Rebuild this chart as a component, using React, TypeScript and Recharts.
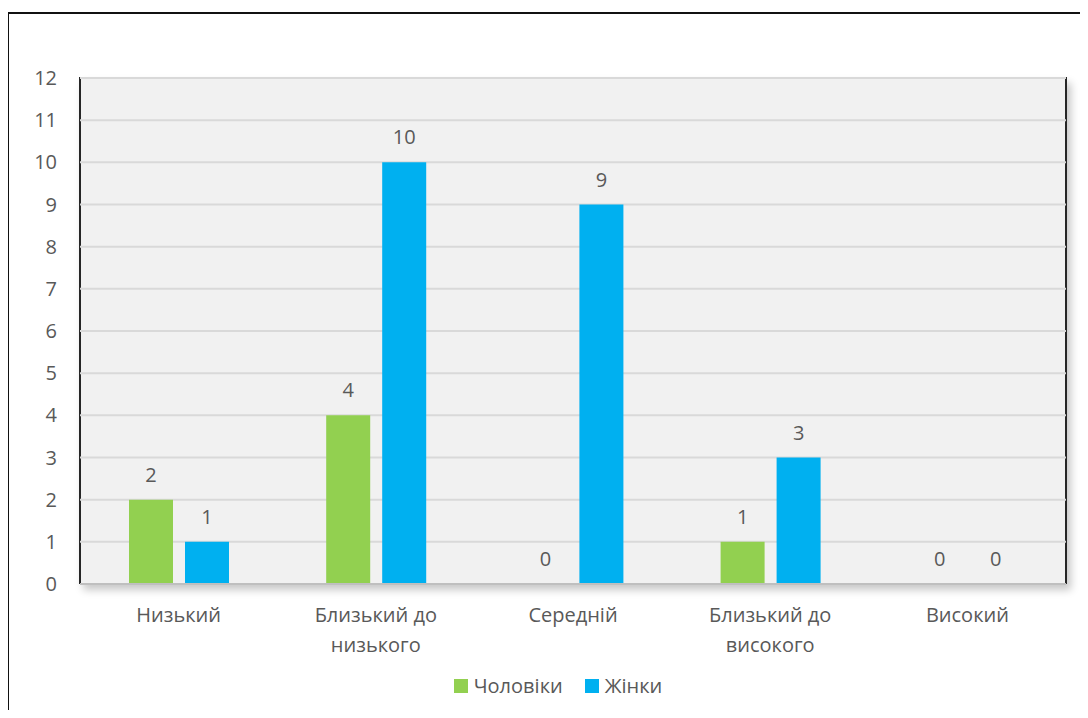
import { Bar, BarChart, CartesianGrid, LabelList, Legend, XAxis, YAxis } from "recharts";

const levels = ["Низький", "Близький до низького", "Середній", "Близький до високого", "Високий"];
const men = [2, 4, 0, 1, 0];
const women = [1, 10, 9, 3, 0];
const yTicks = [0, 1, 2, 3, 4, 5, 6, 7, 8, 9, 10, 11, 12];

const series = [
  { key: "men", name: "Чоловіки", color: "#92d050" },
  { key: "women", name: "Жінки", color: "#00b0f0" },
];

const data = levels.map((level, i) => ({ level, men: men[i], women: women[i] }));

const FONT = "'Open Sans', 'Noto Sans', sans-serif";
const TEXT = "#595959";
const FS = 20;

const W = 1088;
const H = 718;
const PLOT = { left: 80, top: 78, right: 22, bottom: 134 };

// long category names go on two lines: "Близький до" / "низького"
function splitLabel(s: string) {
  const words = s.split(" ");
  if (words.length < 3) return [s];
  return [words.slice(0, 2).join(" "), words.slice(2).join(" ")];
}

function CategoryTick({ x, y, payload }: any) {
  const lines = splitLabel(payload.value);
  return (
    <text x={x} y={y} textAnchor="middle" fill={TEXT} fontSize={FS} fontFamily={FONT}>
      {lines.map((l, i) => (
        <tspan key={i} x={x} dy={i === 0 ? 28 : 30}>
          {l}
        </tspan>
      ))}
    </text>
  );
}

function LegendBox() {
  return (
    <div
      style={{
        display: "flex",
        justifyContent: "center",
        gap: 22,
        paddingLeft: 30,
        fontFamily: FONT,
        fontSize: FS,
        color: TEXT,
      }}
    >
      {series.map((s) => (
        <span key={s.key} style={{ display: "flex", alignItems: "center", gap: 6 }}>
          <span style={{ width: 14, height: 14, background: s.color, display: "inline-block" }} />
          {s.name}
        </span>
      ))}
    </div>
  );
}

export default function App() {
  return (
    <div style={{ position: "relative", width: W, height: H, overflow: "hidden", margin: -8, background: "#fff" }}>
      {/* outer frame */}
      <div
        style={{
          position: "absolute",
          left: 7,
          top: 12,
          width: W + 20,
          height: H + 20,
          border: "2px solid #111",
          boxSizing: "border-box",
        }}
      />
      {/* plot background with its frame and drop shadow */}
      <div
        style={{
          position: "absolute",
          left: PLOT.left - 1,
          top: PLOT.top - 1,
          width: W - PLOT.left - PLOT.right + 2,
          height: H - PLOT.top - PLOT.bottom + 1,
          background: "#f1f1f1",
          borderLeft: "2px solid #262626",
          borderTop: "2px solid #262626",
          borderRight: "2px solid #262626",
          boxSizing: "border-box",
          boxShadow: "4px 6px 8px rgba(0,0,0,0.22)",
        }}
      />
      <div style={{ position: "absolute", left: 0, top: 0 }}>
        <BarChart
          width={W}
          height={H}
          data={data}
          barSize={44}
          barGap={12}
          margin={{ top: PLOT.top, right: PLOT.right, bottom: 12, left: 20 }}
        >
          <CartesianGrid vertical={false} stroke="#d9d9d9" strokeWidth={2} />
          <XAxis
            dataKey="level"
            interval={0}
            tickLine={false}
            axisLine={{ stroke: "#bfbfbf", strokeWidth: 2 }}
            tick={<CategoryTick />}
            tickMargin={4}
            height={88}
          />
          <YAxis
            domain={[0, 12]}
            ticks={yTicks}
            interval={0}
            width={60}
            tickLine={false}
            axisLine={false}
            tickSize={0}
            tickMargin={23}
            tick={{ fill: TEXT, fontSize: FS, fontFamily: FONT }}
          />
          <Legend verticalAlign="bottom" height={34} content={<LegendBox />} />
          {series.map((s) => (
            <Bar
              key={s.key}
              dataKey={s.key}
              name={s.name}
              fill={s.color}
              minPointSize={0.3}
              isAnimationActive={false}
            >
              <LabelList
                dataKey={s.key}
                position="top"
                offset={18}
                fill={TEXT}
                fontSize={FS}
                fontFamily={FONT}
              />
            </Bar>
          ))}
        </BarChart>
      </div>
    </div>
  );
}
